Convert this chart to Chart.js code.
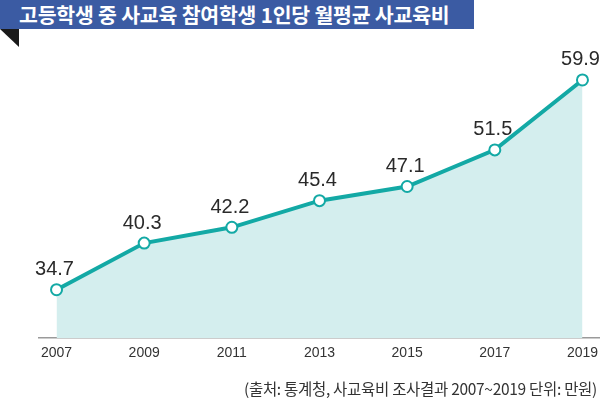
<!DOCTYPE html>
<html>
<head>
<meta charset="utf-8">
<script src="https://cdn.jsdelivr.net/npm/chart.js@4"></script>
<style>
  html, body { margin: 0; padding: 0; background: #fff; }
  #wrap { position: relative; width: 600px; height: 398px; overflow: hidden; }
  #chart { position: absolute; left: 0; top: 0; }
  .title {
    position: absolute; left: 0; top: 0; width: 474px; height: 29px;
    background: #3b5ba3; color: #fff;
    font-family: "Noto Sans CJK KR", sans-serif; font-weight: 700; font-size: 20.5px;
    line-height: 29px; padding-left: 19px; box-sizing: border-box; letter-spacing: -0.2px;
  }
  .fold {
    position: absolute; left: 0; top: 29px; width: 19px; height: 18px;
    background: #1a1a1a; clip-path: polygon(0 0, 100% 0, 100% 100%);
  }
  .source {
    position: absolute; right: 3px; top: 378px;
    font-family: "Noto Sans CJK KR", sans-serif; font-size: 15.5px; color: #333;
    line-height: 20px; letter-spacing: -0.3px;
  }
</style>
</head>
<body>
<div id="wrap">
  <canvas id="chart" width="600" height="398"></canvas>
  <div class="title">고등학생 중 사교육 참여학생 1인당 월평균 사교육비</div>
  <div class="fold"></div>
  <div class="source">(출처: 통계청, 사교육비 조사결과 2007~2019 단위: 만원)</div>
</div>
<script>
const years = [2007, 2009, 2011, 2013, 2015, 2017, 2019];
const spending = [34.7, 40.3, 42.2, 45.4, 47.1, 51.5, 59.9];

const lineColor = '#13a9a5';

// value labels above each point
const valueLabels = {
    id: 'valueLabels',
    afterDatasetsDraw(chart) {
        const ctx = chart.ctx;
        const meta = chart.getDatasetMeta(0);
        ctx.save();
        ctx.font = '20px "Liberation Sans", Arial, sans-serif';
        ctx.fillStyle = '#2a2a2a';
        ctx.textAlign = 'center';
        ctx.textBaseline = 'middle';
        meta.data.forEach((pt, i) => {
            ctx.fillText(spending[i].toFixed(1), pt.x - 2, pt.y - 20);
        });
        ctx.restore();
    }
};

const ctx = document.getElementById('chart').getContext('2d');
const chart = new Chart(ctx, {
    type: 'line',
    data: {
        datasets: [{
            data: years.map((y, i) => ({ x: y, y: spending[i] })),
            borderColor: lineColor,
            borderWidth: 4,
            backgroundColor: '#d4eeee',
            fill: 'start',
            tension: 0,
            pointRadius: 5.5,
            pointBorderWidth: 2,
            pointBackgroundColor: '#fff',
            pointBorderColor: lineColor
        }]
    },
    options: {
        responsive: false,
        animation: false,
        layout: { autoPadding: false, padding: { top: 40, left: 39, right: 0, bottom: 29 } },
        plugins: { legend: { display: false }, tooltip: { enabled: false } },
        scales: {
            x: {
                type: 'linear',
                min: 2006.6,
                max: 2019.4,
                afterBuildTicks: scale => { scale.ticks = years.map(v => ({ value: v })); },
                grid: { display: false, drawTicks: false },
                border: { display: true, color: '#9a9a9a', width: 1.5 },
                ticks: {
                    padding: 0,
                    color: '#333',
                    font: { family: '"Liberation Sans", Arial, sans-serif', size: 14, lineHeight: 31 / 14 },
                    callback: v => String(v),
                    maxRotation: 0
                }
            },
            y: {
                display: false,
                min: 28.9,
                max: 64.7
            }
        }
    },
    plugins: [valueLabels]
});
</script>
</body>
</html>
